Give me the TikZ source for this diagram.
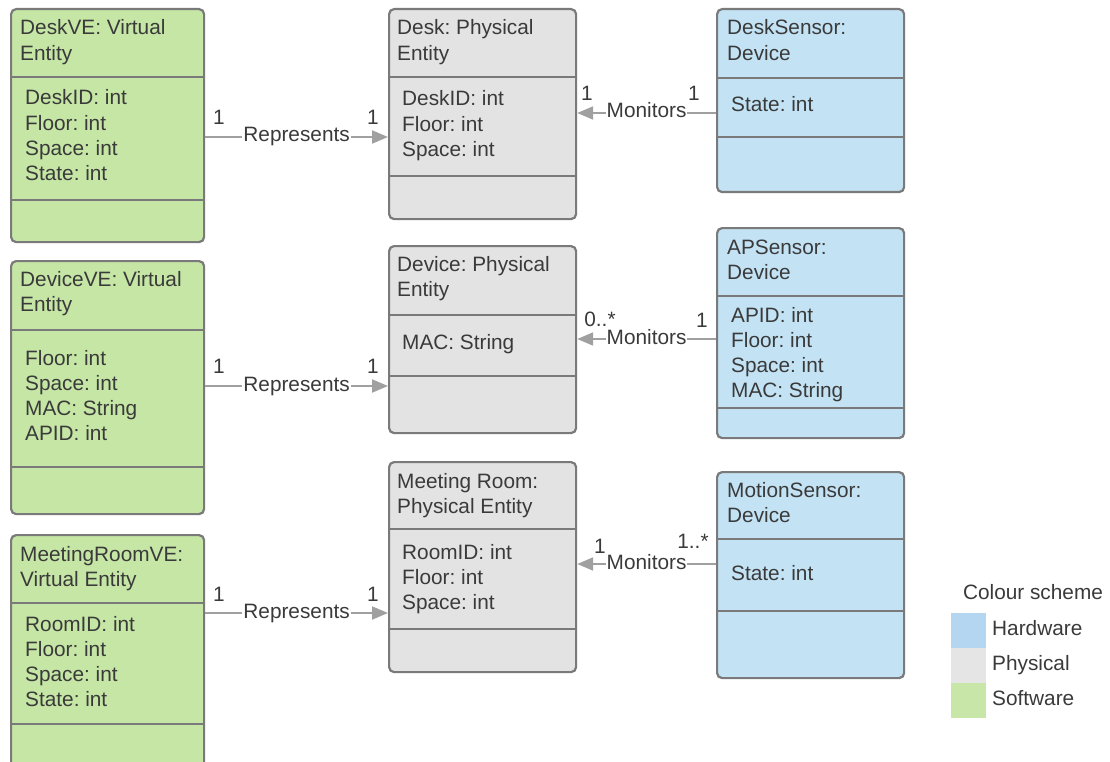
\documentclass[tikz,border=0pt]{standalone}
\usepackage{fontspec}
\setmainfont{Liberation Sans}
\usetikzlibrary{arrows.meta}
\frenchspacing

\definecolor{swgreen}{RGB}{197,230,165}
\definecolor{phgray}{RGB}{227,227,227}
\definecolor{hwblue}{RGB}{195,227,245}
\definecolor{legblue}{RGB}{180,214,240}
\definecolor{leggray}{RGB}{229,229,229}
\definecolor{leggreen}{RGB}{199,230,168}
\definecolor{boxline}{RGB}{122,122,122}
\definecolor{linkgray}{RGB}{160,160,160}
\definecolor{ink}{RGB}{58,58,58}

\tikzset{
  classbox/.style={draw=boxline, line width=2.2pt, rounded corners=5pt,
    inner sep=0pt, anchor=north west},
  divider/.style={draw=boxline, line width=2.2pt},
  txt/.style={anchor=base west, inner sep=0pt, text=ink,
    font=\fontsize{20.8}{25}\selectfont},
  lbl/.style={anchor=base, yshift=-5pt, fill=white, inner xsep=1pt,
    inner ysep=0pt, text=ink, font=\fontsize{20.8}{25}\selectfont},
  mult/.style={anchor=base, inner sep=0pt, text=ink,
    font=\fontsize{20.8}{25}\selectfont},
  assoc/.style={draw=linkgray, line width=2pt,
    -{Triangle[length=16pt,width=13pt]}},
  swatch/.style={anchor=north west, inner sep=0pt, minimum width=35pt,
    minimum height=35pt},
}

% class box: name, x, y, width, height, first divider, second divider, fill
\newcommand\umlclass[8]{%
  \node[classbox, fill=#8, minimum width=#4pt, minimum height=#5pt] (#1) at (#2,#3) {};
  \draw[divider] (#1.west |- 0,#6) -- (#1.east |- 0,#6);
  \draw[divider] (#1.west |- 0,#7) -- (#1.east |- 0,#7);
}
% stacked text lines: name prefix, x, first baseline, list of lines
\newcommand\textlines[4]{%
  \foreach \s [count=\i] in {#4}
    \node[txt] (#1-\i) at (#2,{#3+25.2*(\i-1)}) {\s};
}

\begin{document}
\begin{tikzpicture}[x=1pt,y=-1pt]
\useasboundingbox (0,0) rectangle (1110,762);
\clip (0,0) rectangle (1110,762);

% virtual entities
\umlclass{deskve}{10}{8}{193}{233}{77}{200}{swgreen}
\umlclass{devve}{10}{260}{193}{253}{330}{467}{swgreen}
\umlclass{meetve}{10}{534}{193}{240}{603}{724}{swgreen}
\textlines{deskve-h}{20}{35}{DeskVE: Virtual, Entity}
\textlines{deskve-a}{25}{105}{DeskID: int, Floor: int, Space: int, State: int}
\textlines{devve-h}{20}{286}{DeviceVE: Virtual, Entity}
\textlines{devve-a}{25}{365}{Floor: int, Space: int, MAC: String, APID: int}
\textlines{meetve-h}{20}{561}{MeetingRoomVE:, Virtual Entity}
\textlines{meetve-a}{25}{631}{RoomID: int, Floor: int, Space: int, State: int}

% physical entities
\umlclass{desk}{388}{8}{187}{210}{77}{176}{phgray}
\umlclass{device}{388}{245}{187}{187}{315}{376}{phgray}
\umlclass{meet}{388}{461}{187}{210}{529}{629}{phgray}
\textlines{desk-h}{397}{35}{Desk: Physical, Entity}
\textlines{desk-a}{402}{106}{DeskID: int, Floor: int, Space: int}
\textlines{device-h}{397}{271}{Device: Physical, Entity}
\textlines{device-a}{402}{349}{MAC: String}
\textlines{meet-h}{397}{488}{Meeting Room:, Physical Entity}
\textlines{meet-a}{402}{559}{RoomID: int, Floor: int, Space: int}

% devices
\umlclass{desksens}{716}{8}{187}{183}{78}{137}{hwblue}
\umlclass{apsens}{716}{227}{187}{210}{296}{408}{hwblue}
\umlclass{motsens}{716}{471}{187}{206}{539}{611}{hwblue}
\textlines{desksens-h}{727}{35}{DeskSensor:, Device}
\textlines{desksens-a}{731}{112}{State: int}
\textlines{apsens-h}{727}{254}{APSensor:, Device}
\textlines{apsens-a}{731}{322}{APID: int, Floor: int, Space: int, MAC: String}
\textlines{motsens-h}{727}{497}{MotionSensor:, Device}
\textlines{motsens-a}{731}{580}{State: int}

% association rows
\coordinate (rep1) at (0,137);
\coordinate (rep2) at (0,386);
\coordinate (rep3) at (0,613);
\coordinate (mon1) at (0,113);
\coordinate (mon2) at (0,339);
\coordinate (mon3) at (0,564);

\draw[assoc] (deskve.east |- rep1) -- node[lbl] (rep1-l) {Represents} (desk.west |- rep1);
\draw[assoc] (devve.east |- rep2) -- node[lbl] (rep2-l) {Represents} (device.west |- rep2);
\draw[assoc] (meetve.east |- rep3) -- node[lbl] (rep3-l) {Represents} (meet.west |- rep3);
\draw[assoc] (desksens.west |- mon1) -- node[lbl] (mon1-l) {Monitors} (desk.east |- mon1);
\draw[assoc] (apsens.west |- mon2) -- node[lbl] (mon2-l) {Monitors} (device.east |- mon2);
\draw[assoc] (motsens.west |- mon3) -- node[lbl] (mon3-l) {Monitors} (meet.east |- mon3);

% multiplicities
\node[mult] (rep1-s) at (219,125) {1};
\node[mult] (rep1-t) at (373,125) {1};
\node[mult] (rep2-s) at (219,373) {1};
\node[mult] (rep2-t) at (373,373) {1};
\node[mult] (rep3-s) at (219,601) {1};
\node[mult] (rep3-t) at (373,601) {1};
\node[mult] (mon1-t) at (587,101) {1};
\node[mult] (mon1-s) at (694,101) {1};
\node[mult] (mon2-t) at (600,326) {0..*};
\node[mult] (mon2-s) at (702,327) {1};
\node[mult] (mon3-t) at (600,553) {1};
\node[mult] (mon3-s) at (693,548) {1..*};

% colour legend
\node[mult] (leg-title) at (1033,599) {Colour scheme};
\node[swatch, fill=legblue] (leg-hw) at (951,613) {};
\node[swatch, fill=leggray] (leg-ph) at (951,648) {};
\node[swatch, fill=leggreen] (leg-sw) at (951,683) {};
\node[txt] (leg-hw-t) at (992,635) {Hardware};
\node[txt] (leg-ph-t) at (992,670) {Physical};
\node[txt] (leg-sw-t) at (992,705) {Software};
\end{tikzpicture}
\end{document}
